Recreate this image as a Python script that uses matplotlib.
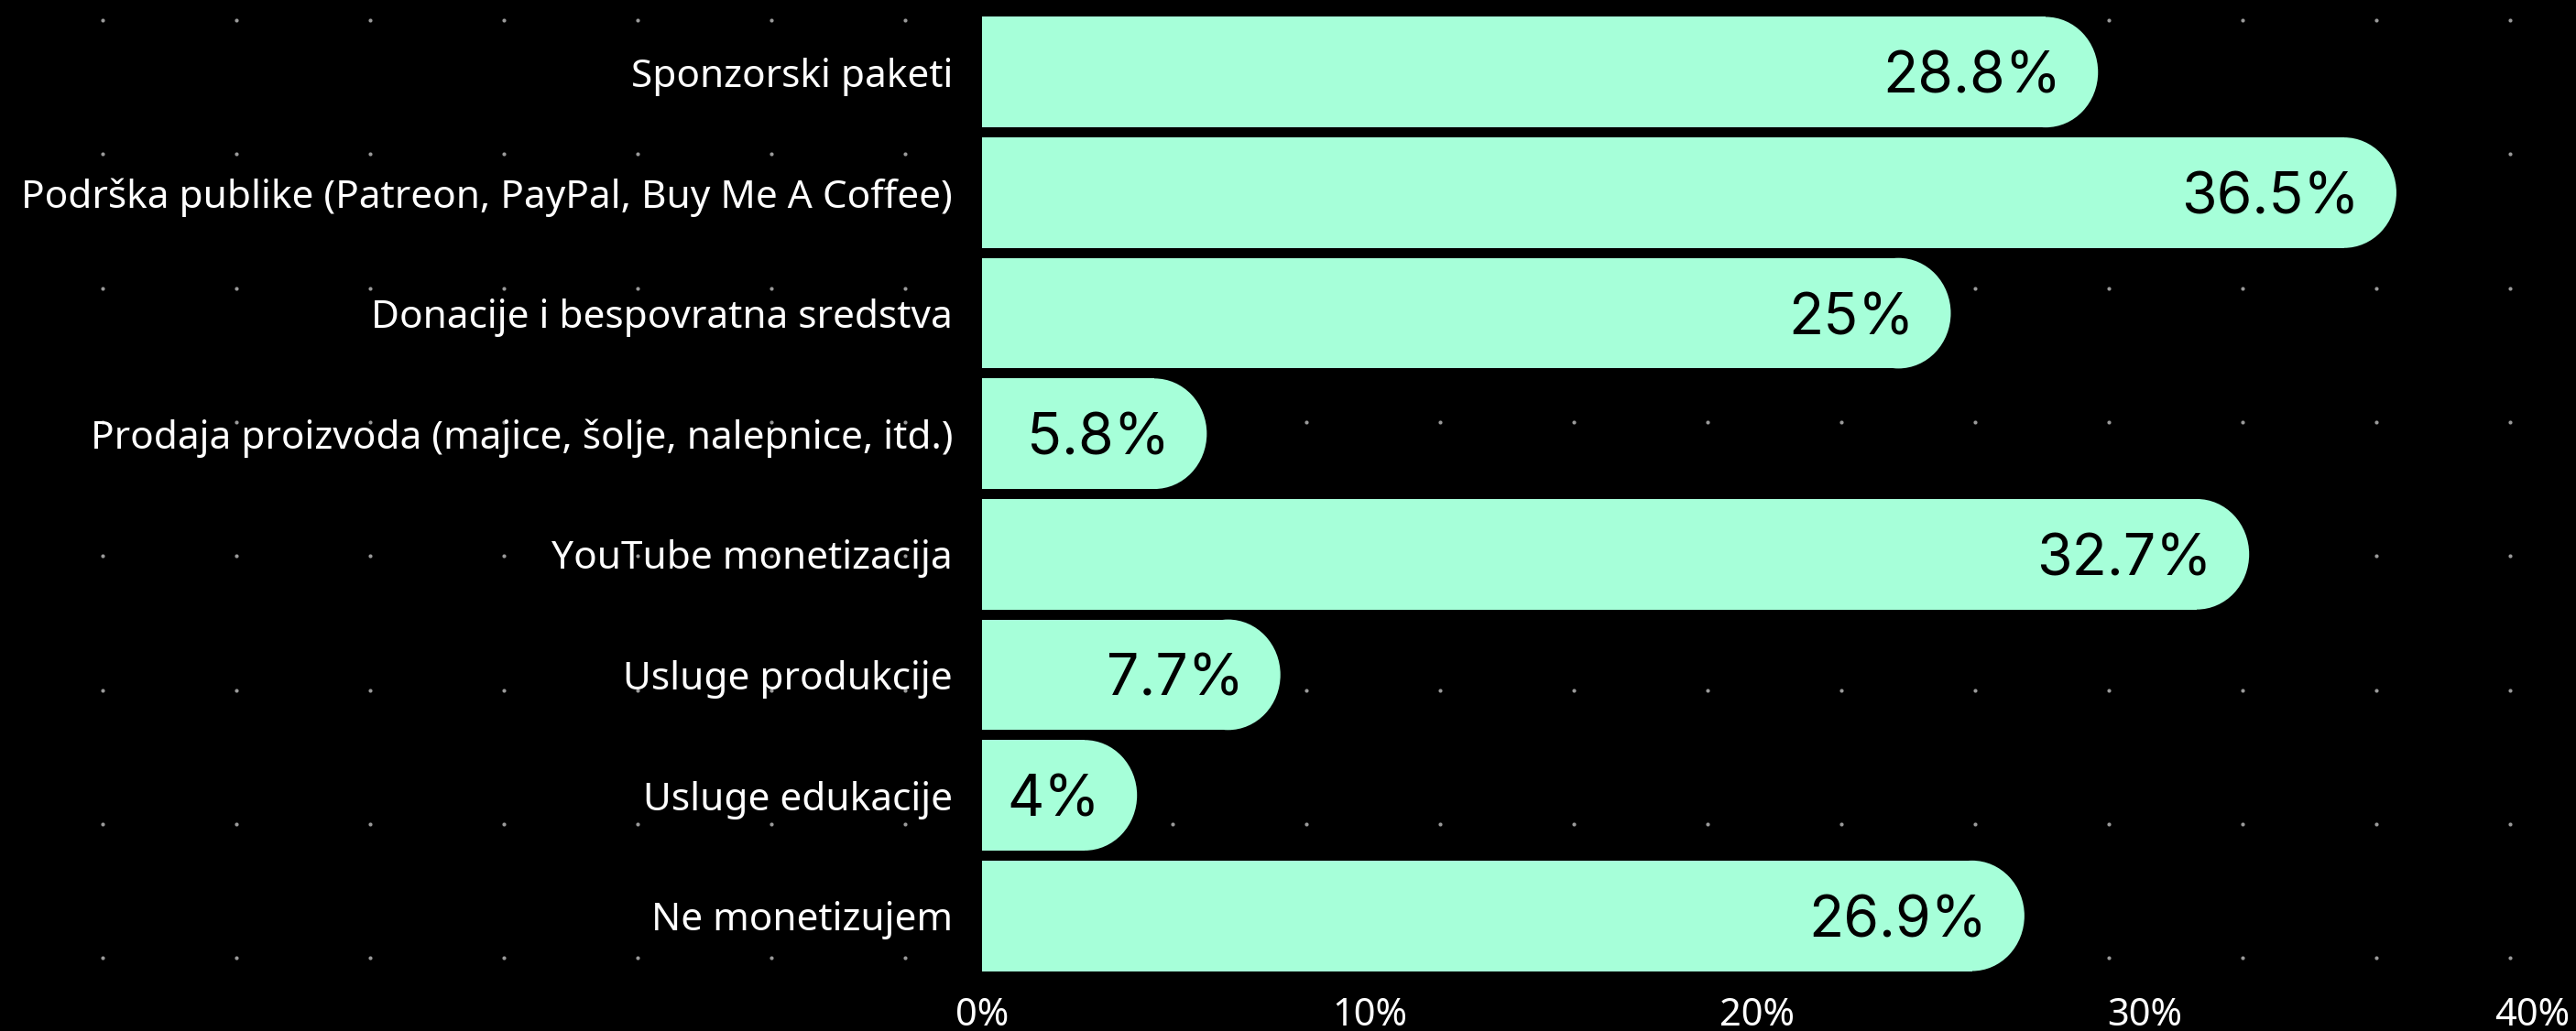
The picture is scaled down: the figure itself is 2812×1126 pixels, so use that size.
import matplotlib
matplotlib.use("Agg")
import matplotlib.pyplot as plt
from matplotlib.patches import Ellipse
import numpy as np

# survey answers, top to bottom
categories = [
    "Sponzorski paketi",
    "Podrška publike (Patreon, PayPal, Buy Me A Coffee)",
    "Donacije i bespovratna sredstva",
    "Prodaja proizvoda (majice, šolje, nalepnice, itd.)",
    "YouTube monetizacija",
    "Usluge produkcije",
    "Usluge edukacije",
    "Ne monetizujem",
]
values = [28.8, 36.5, 25, 5.8, 32.7, 7.7, 4, 26.9]
value_labels = ["28.8%", "36.5%", "25%", "5.8%", "32.7%", "7.7%", "4%", "26.9%"]
x_ticks = [0, 10, 20, 30, 40]
x_tick_labels = ["0%", "10%", "20%", "30%", "40%"]

mint = "#a6ffd9"
W, H = 2812, 1126

fig = plt.figure(figsize=(W / 100, H / 100), dpi=100)
fig.patch.set_facecolor("black")

# dotted background grid (whole canvas)
bg = fig.add_axes([0, 0, 1, 1])
bg.set_xlim(0, W)
bg.set_ylim(H, 0)
bg.axis("off")
gx, gy = np.meshgrid(np.arange(112, W, 146), np.arange(22, H, 146.3))
bg.scatter(gx.ravel(), gy.ravel(), s=9, color="#9a9a9a", linewidths=0)

ax = fig.add_axes([1072 / W, 1 - 1066 / H, (2764 - 1072) / W, (1066 - 13) / H])
ax.set_facecolor("none")
ax.set_xlim(0, 40)
ax.set_ylim(len(categories) - 0.5, -0.5)

bar_h = 0.917
r = 1.35  # horizontal radius of the rounded end, in % units
ypos = np.arange(len(categories))
ax.barh(ypos, [v - r for v in values], height=bar_h, color=mint, linewidth=0, zorder=2)
for y, v, lab in zip(ypos, values, value_labels):
    ax.add_patch(Ellipse((v - r, y), 2 * r, bar_h, color=mint, linewidth=0, zorder=2))
    ax.text(v - 0.95, y, lab, ha="right", va="center_baseline", fontsize=45,
            family="Inter", color="black", zorder=3)

ax.set_yticks(ypos)
ax.set_yticklabels(categories, fontsize=30.5, family="Noto Sans", color="white")
ax.set_xticks(x_ticks)
ax.set_xticklabels(x_tick_labels, fontsize=30, family="Noto Sans", color="white")
ax.tick_params(axis="both", length=0)
ax.tick_params(axis="y", pad=23)
ax.tick_params(axis="x", pad=16)
for s in ax.spines.values():
    s.set_visible(False)

fig.savefig("out.png", dpi=100, facecolor="black")
